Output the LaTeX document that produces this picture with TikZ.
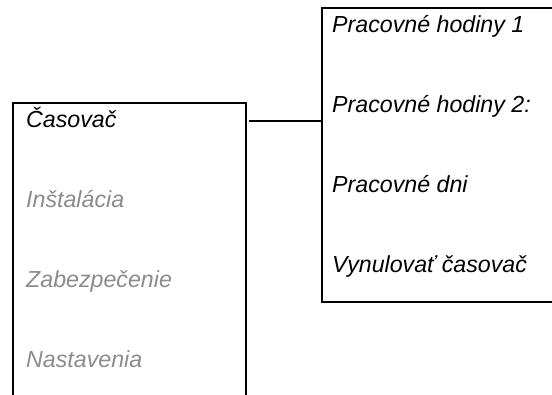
\documentclass[tikz,border=0pt]{standalone}
\usepackage{fontspec}
\setmainfont{Liberation Sans}
\definecolor{dimgray}{RGB}{140,140,140}
\tikzset{
  menubox/.style={draw=black, line width=2pt, inner sep=0pt},
  item/.style={anchor=base west, inner sep=0pt, font=\fontsize{23.2}{28}\selectfont\itshape},
  dimitem/.style={item, text=dimgray},
  link/.style={draw=black, line width=2pt}
}
\begin{document}
\begin{tikzpicture}[x=1pt,y=1pt]
\clip (0,0) rectangle (552,-395);
\fill[white] (0,0) rectangle (552,-395);
\node[menubox, minimum width=233pt, minimum height=330pt, anchor=north west] (lbox) at (12,-102) {};
\node[menubox, minimum width=260pt, minimum height=294pt, anchor=north west] (rbox) at (321,-7) {};
\node[item] (l1) at (26,-127.5) {Časovač};
\node[dimitem] (l2) at (26,-207.5) {Inštalácia};
\node[dimitem] (l3) at (26,-287.5) {Zabezpečenie};
\node[dimitem] (l4) at (26,-367.5) {Nastavenia};
\node[item] (r1) at (332,-32.5) {Pracovné hodiny 1};
\node[item] (r2) at (332,-112.5) {Pracovné hodiny 2:};
\node[item] (r3) at (332,-192.5) {Pracovné dni};
\node[item] (r4) at (332,-272.5) {Vynulovať časovač};
\coordinate (c1) at (249,-121);
\draw[link] (c1) -- (c1 -| rbox.west);
\end{tikzpicture}
\end{document}
